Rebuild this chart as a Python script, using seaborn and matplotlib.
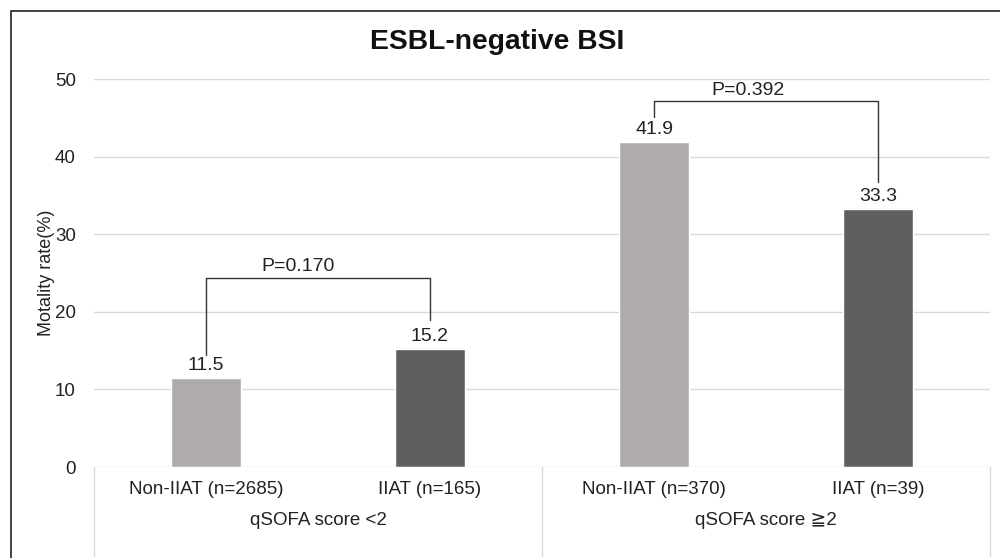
import matplotlib
matplotlib.use("Agg")
import matplotlib.pyplot as plt
import matplotlib.transforms as mtransforms
from matplotlib.patches import Rectangle
import pandas as pd
import seaborn as sns

labels = ["Non-IIAT (n=2685)", "IIAT (n=165)", "Non-IIAT (n=370)", "IIAT (n=39)"]
treatment = ["Non-IIAT", "IIAT", "Non-IIAT", "IIAT"]
groups = ["qSOFA score <2", "qSOFA score \u22672"]
mortality = [11.5, 15.2, 41.9, 33.3]
p_values = ["P=0.170", "P=0.392"]

df = pd.DataFrame({"label": labels, "treatment": treatment, "value": mortality})

sns.set_style("white")
plt.rcParams["font.family"] = ["Liberation Sans", "DejaVu Sans"]

fig = plt.figure(figsize=(10, 5.58), dpi=100)
ax = fig.add_axes([0.094, 0.163, 0.896, 0.695])

sns.barplot(data=df, x="label", y="value", hue="treatment", order=labels,
            palette={"Non-IIAT": "#AFABAB", "IIAT": "#5F5F5F"},
            width=0.31, dodge=False, legend=False, ax=ax, saturation=1)

for c in ax.containers:
    ax.bar_label(c, fmt="%.1f", padding=3, fontsize=14, color="#222222")

ax.set_xlim(-0.5, 3.5)
ax.set_ylim(0, 50)
ax.set_yticks(range(0, 51, 10))
ax.yaxis.grid(True, color="#D9D9D9", linewidth=1)
ax.set_axisbelow(True)
for s in ax.spines.values():
    s.set_visible(False)
ax.tick_params(axis="both", length=0, labelsize=13.5, colors="#222222")
ax.tick_params(axis="x", pad=10)
ax.tick_params(axis="y", pad=13)
ax.set_xlabel("")
ax.set_ylabel("Motality rate(%)", fontsize=13, color="#222222", labelpad=0)

# two-level category axis
trans = mtransforms.blended_transform_factory(ax.transData, ax.transAxes)
for x in [-0.5, 1.5, 3.5]:
    ax.plot([x, x], [0, -0.23], transform=trans, color="#D9D9D9", lw=1, clip_on=False)
for i, g in enumerate(groups):
    ax.text(2 * i + 0.5, -0.138, g, transform=trans, ha="center", va="center",
            fontsize=13.5, color="#222222")

# significance brackets
brackets = [(0, 1, 14.4, 18.9, 24.4, 0.41), (2, 3, 45.1, 36.7, 47.2, 2.42)]
for (x0, x1, y0, y1, top, tx), p in zip(brackets, p_values):
    ax.plot([x0, x0, x1, x1], [y0, top, top, y1], color="#333333", lw=1, clip_on=False)
    ax.text(tx, top + 0.3, p, ha="center", va="bottom", fontsize=14, color="#222222")

fig.text(0.497, 0.924, "ESBL-negative BSI", ha="center", va="center",
         fontsize=20.3, fontweight="bold", color="#111111")

fig.patches.append(Rectangle((0.011, -0.5), 2, 1.48, transform=fig.transFigure,
                             fill=False, edgecolor="#222222", lw=1.2))

fig.savefig("out.png", dpi=100)
